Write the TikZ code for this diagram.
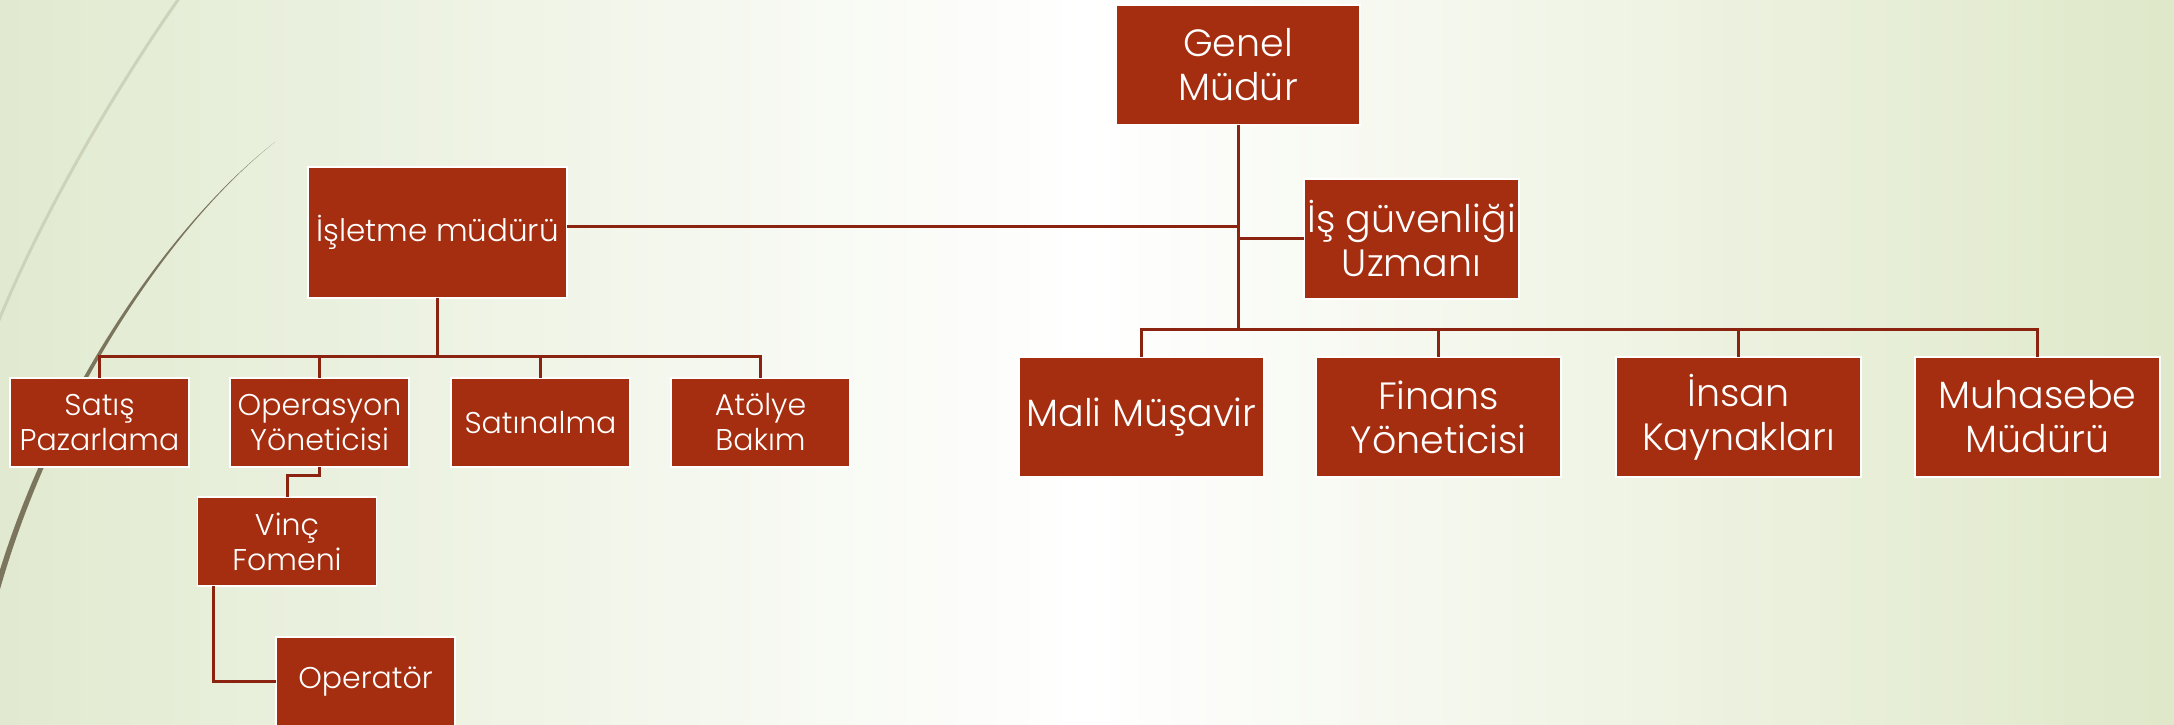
\documentclass[tikz,border=0pt]{standalone}
\usepackage{fontspec}
\setmainfont{Poppins Light}
\usetikzlibrary{positioning,calc}
\definecolor{boxred}{RGB}{165,46,16}
\definecolor{linkred}{RGB}{138,36,16}
\definecolor{bgleft}{RGB}{225,234,208}
\definecolor{bgright}{RGB}{223,232,201}
\definecolor{wispdark}{RGB}{122,117,92}
\definecolor{wisplight}{RGB}{204,211,186}

\begin{document}
\begin{tikzpicture}[x=1pt,y=1pt,box/.style={rectangle,fill=boxred,draw=white,line width=1.5pt,text=white,align=center,inner sep=0pt,outer sep=0pt},big/.style={box,minimum width=245pt,minimum height=120pt,font=\fontsize{38}{44}\selectfont},small/.style={box,minimum width=179pt,minimum height=89pt,font=\fontsize{30}{35}\selectfont},link/.style={draw=linkred,line width=3pt}]
		\useasboundingbox (0,0) rectangle (2174,725);
		\shade[left color=bgleft,right color=bgright,middle color=white] (0,0) rectangle (2174,725);
		\begin{scope}
			\clip (0,0) rectangle (2174,725);
			\draw[wisplight,line width=3pt] (180,728) .. controls (125,650) and (45,520) .. (-5,395);
			\fill[wispdark] (275,583) .. controls (170,500) and (50,320) .. (-3,125) -- (-8,128) .. controls (45,320) and (166,498) .. cycle;
		\end{scope}

		\node[big,minimum width=244pt]											(genel)		at (1238,660) {Genel\\Müdür};
		\node[big,minimum width=215pt,node distance=54pt,below=of genel,xshift=173.5pt]	(isg)		{İş güvenliği\\Uzmanı};
		\node[big,node distance=232pt,below=of genel,xshift=-96.5pt]			(mali)		{Mali Müşavir};
		\node[big,node distance=52pt,right=of mali]							(finans)	{Finans\\Yöneticisi};
		\node[big,node distance=55pt,right=of finans]							(insan)		{İnsan\\Kaynakları};
		\node[big,node distance=54pt,right=of insan]							(muhasebe)	{Muhasebe\\Müdürü};

		\node[box,minimum width=259pt,minimum height=131pt,font=\fontsize{31}{36}\selectfont]	(isletme)	at (437.5,492.5) {İşletme müdürü};
		\node[small,node distance=80pt,below=of isletme,xshift=-338pt]		(satis)		{Satış\\Pazarlama};
		\node[small,node distance=41pt,right=of satis]							(operasyon)	{Operasyon\\Yöneticisi};
		\node[small,node distance=42pt,right=of operasyon]						(satinalma)	{Satınalma};
		\node[small,node distance=41pt,right=of satinalma]						(atolye)	{Atölye\\Bakım};
		\node[small,node distance=30pt,below=of operasyon,xshift=-32.5pt]		(vinc)		{Vinç\\Fomeni};
		\node[small,node distance=51pt,below=of vinc,xshift=78.5pt]			(operator)	{Operatör};

		\coordinate (rbus) at ($(genel.south)+(0,-205)$);
		\coordinate (lbus) at ($(isletme.south)+(0,-59)$);
		\coordinate (imout) at ($(isletme.east)+(0,6)$);

		\draw[link] (genel.south) -- (rbus);
		\draw[link] (imout) -- (imout -| genel.south);
		\draw[link] (isg.west -| genel.south) -- (isg.west);
		\draw[link] (mali.north) -- (rbus -| mali.north) -- (rbus -| muhasebe.north) -- (muhasebe.north);
		\draw[link] (rbus -| finans.north) -- (finans.north);
		\draw[link] (rbus -| insan.north) -- (insan.north);
		\draw[link] (isletme.south) -- (lbus);
		\draw[link] (satis.north) -- (lbus -| satis.north) -- (lbus -| atolye.north) -- (atolye.north);
		\draw[link] (lbus -| operasyon.north) -- (operasyon.north);
		\draw[link] (lbus -| satinalma.north) -- (satinalma.north);
		\draw[link] (operasyon.south) -- ++(0,-9) -| (vinc.north);
		\draw[link] ($(vinc.south west)+(16,0)$) |- (operator.west);
	\end{tikzpicture}
\end{document}
